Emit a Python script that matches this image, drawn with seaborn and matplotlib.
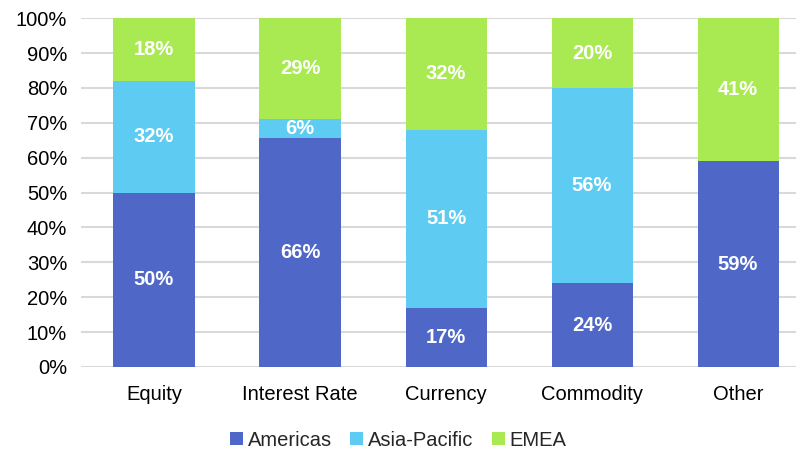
import matplotlib
matplotlib.use("Agg")
import matplotlib.pyplot as plt
import seaborn as sns
import numpy as np
import pandas as pd
from matplotlib.patches import Patch

categories = ["Equity", "Interest Rate", "Currency", "Commodity", "Other"]
americas = [50, 65.6, 17, 24, 59]
asia_pacific = [32, 5.6, 51, 56, 0]
emea = [18, 28.8, 32, 20, 41]
series_names = ["Americas", "Asia-Pacific", "EMEA"]
colors = ["#4F67C7", "#5ECBF2", "#A9EA52"]

sns.set_theme(style="white")
plt.rcParams['font.family'] = ['Liberation Sans', 'DejaVu Sans']

fig = plt.figure(figsize=(7.96, 4.53), dpi=100)
ax = fig.add_axes([81/796, 0.190, 1 - 81/796, 0.770])

vals = np.array([americas, asia_pacific, emea], dtype=float)
totals = vals.sum(axis=0)
shares = vals / totals
bottom = np.zeros(len(categories))
for name, share, col in zip(series_names, shares, colors):
    df = pd.DataFrame({"cat": categories, "v": share})
    sns.barplot(data=df, x="cat", y="v", bottom=bottom, color=col, width=0.555,
                ax=ax, label=name, saturation=1, zorder=3, edgecolor="none", linewidth=0)
    for i, s in enumerate(share):
        if s > 0:
            ax.text(i, bottom[i] + s / 2, f"{s*100:.0f}%", ha="center", va="center",
                    color="white", fontsize=14.5, fontweight="bold", zorder=4)
    bottom = bottom + share

ax.set_ylim(0, 1)
ax.set_xlim(-0.5, 4.397)
ticks = np.arange(0, 1.01, 0.1)
ax.set_yticks(ticks)
ax.set_yticklabels([f"{int(round(t*100))}%" for t in ticks], fontsize=14.5, color="black")
ax.tick_params(axis="x", labelsize=14.5, colors="black", pad=13, length=0)
ax.tick_params(axis="y", pad=10, length=0)
ax.set_xlabel("")
ax.set_ylabel("")
ax.yaxis.grid(True, color="#D9D9D9", linewidth=1.5, zorder=0)
ax.set_axisbelow(True)
for sp in ax.spines.values():
    sp.set_visible(False)

h = [Patch(facecolor=c, edgecolor='none') for c in colors]
if ax.get_legend() is not None:
    ax.get_legend().remove()
fig.legend(h, series_names, loc="center", bbox_to_anchor=(0.5, 0.028), ncol=3, frameon=False,
           fontsize=14.5, handlelength=0.65, handleheight=0.65, handletextpad=0.25, columnspacing=0.9)

fig.savefig("out.png", dpi=100)
